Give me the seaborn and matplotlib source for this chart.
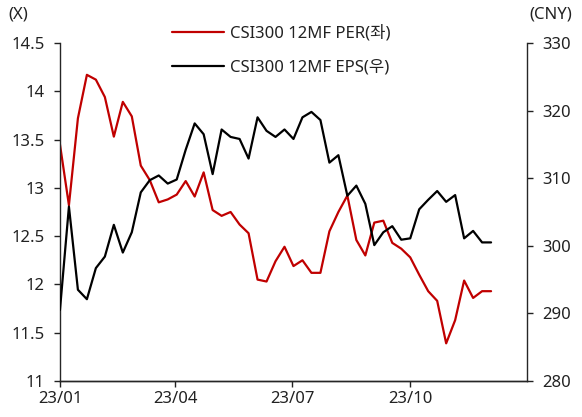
import matplotlib
matplotlib.use("Agg")
import matplotlib.pyplot as plt
import matplotlib.dates as mdates
import numpy as np
import pandas as pd
import seaborn as sns

# === Datos (semanal, 2023) ===
fechas = pd.date_range("2023-01-01", periods=49, freq="7D")
per = [13.45, 12.82, 13.72, 14.17, 14.12, 13.94, 13.53, 13.89, 13.74, 13.23,
       13.08, 12.85, 12.88, 12.93, 13.07, 12.91, 13.16, 12.77, 12.71, 12.75,
       12.62, 12.53, 12.05, 12.03, 12.24, 12.39, 12.19, 12.25, 12.12, 12.12,
       12.55, 12.75, 12.92, 12.46, 12.30, 12.64, 12.66, 12.43, 12.37, 12.28,
       12.10, 11.93, 11.83, 11.39, 11.63, 12.04, 11.86, 11.93, 11.93]
eps = [290.5, 305.8, 293.5, 292.1, 296.7, 298.4, 303.1, 299.0, 302.0, 307.9,
       309.7, 310.4, 309.2, 309.8, 314.2, 318.1, 316.5, 310.6, 317.2, 316.1,
       315.8, 312.9, 319.0, 317.0, 316.1, 317.2, 315.8, 319.0, 319.8, 318.6,
       312.3, 313.4, 307.4, 308.9, 306.2, 300.1, 302.0, 302.9, 300.9, 301.1,
       305.4, 306.8, 308.1, 306.5, 307.5, 301.1, 302.2, 300.5, 300.5]
lbl_per = "CSI300 12MF PER(좌)"
lbl_eps = "CSI300 12MF EPS(우)"
ticks_izq = np.arange(11, 14.51, 0.5)
ticks_der = np.arange(280, 331, 10)
ticks_x = pd.to_datetime(["2023-01-01", "2023-04-01", "2023-07-01", "2023-10-01"])

df = pd.DataFrame({"fecha": fechas, "per": per, "eps": eps})

sns.set_style("ticks")
plt.rcParams["font.family"] = ["Noto Sans", "Noto Sans CJK KR", "DejaVu Sans"]
plt.rcParams["font.size"] = 12
plt.rcParams["text.color"] = "#222222"
plt.rcParams["xtick.color"] = "#222222"
plt.rcParams["ytick.color"] = "#222222"

fig = plt.figure(figsize=(5.82, 4.17), dpi=100)
ax = fig.add_axes([0.103, 0.0863, 0.8025, 0.8107])
ax2 = ax.twinx()

sns.lineplot(data=df, x="fecha", y="per", ax=ax, color="#C00000", lw=1.6, label=lbl_per, legend=False)
sns.lineplot(data=df, x="fecha", y="eps", ax=ax2, color="black", lw=1.6, label=lbl_eps, legend=False)

ax.set_xlim(pd.Timestamp("2023-01-01"), pd.Timestamp("2023-12-31"))
ax.set_ylim(11, 14.5)
ax2.set_ylim(280, 330)
ax.set_yticks(ticks_izq)
ax.set_yticklabels([f"{v:g}" for v in ticks_izq])
ax2.set_yticks(ticks_der)
ax.set_xticks(ticks_x)
ax.xaxis.set_major_formatter(mdates.DateFormatter("%y/%m"))
ax.set_xlabel(""); ax.set_ylabel(""); ax2.set_ylabel("")

for a in (ax, ax2):
    a.spines["top"].set_visible(False)
    for s in a.spines.values():
        s.set_linewidth(1.0)
    a.tick_params(direction="out", length=4, width=1.0, labelsize=12)
    a.tick_params(axis="y", pad=7)
ax2.spines["left"].set_visible(False)
ax.spines["right"].set_visible(False)

h1, l1 = ax.get_legend_handles_labels()
h2, l2 = ax2.get_legend_handles_labels()
ax2.legend(h1 + h2, l1 + l2, loc="upper left", bbox_to_anchor=(0.27, 0.976),
           bbox_transform=fig.transFigure, frameon=False, handlelength=3.1,
           labelspacing=1.1, handletextpad=0.4, fontsize=12)

fig.text(0.014, 0.965, "(X)", fontsize=12, va="center")
fig.text(0.91, 0.965, "(CNY)", fontsize=12, va="center")

plt.savefig("out.png", dpi=100)
